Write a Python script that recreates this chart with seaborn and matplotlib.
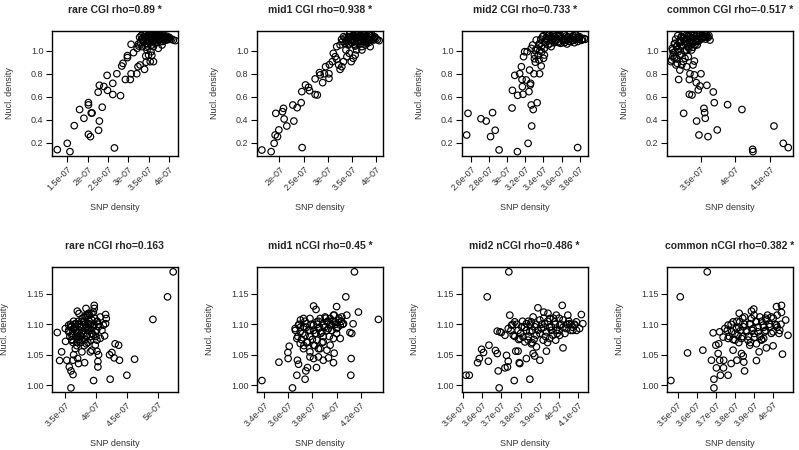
import numpy as np
import matplotlib
matplotlib.use("Agg")
import matplotlib.pyplot as plt
import seaborn as sns

# ---- top row: CGI ----
rare_cgi_snp = [1.254, 1.5, 1.566, 1.672, 1.803, 1.91, 2.02, 2.02, 2.02, 2.07, 2.09, 2.11,
                2.29, 2.26, 2.29, 2.27, 2.36, 2.40, 2.49, 2.48, 2.62, 2.62, 2.66, 2.72, 2.81,
                2.84, 2.87, 2.93, 2.98, 2.98, 3.05, 3.07, 3.07, 3.13, 3.21, 3.24, 3.29, 3.40,
                3.43, 3.44, 3.44, 3.5, 3.54, 3.62, 3.58,
                3.28, 3.38, 3.5, 3.58, 3.64, 3.7, 3.79, 3.87, 3.95, 4.03, 4.11, 4.16, 3.25,
                3.34, 3.46, 3.52, 3.62, 3.66, 3.74, 3.83, 3.91, 3.99, 3.46, 3.56, 3.61, 3.70,
                3.79, 3.54, 3.33, 3.42, 3.48, 3.68, 3.76, 3.84, 3.97, 4.07, 3.60, 3.72, 3.90,
                3.32, 3.36, 3.40, 3.44, 3.47, 3.50, 3.53, 3.56, 3.59, 3.62, 3.65, 3.68, 3.71,
                3.74, 3.77, 3.80, 3.83, 3.86, 3.89, 3.92, 3.95, 3.98, 4.01, 3.38, 3.45, 3.52,
                3.58, 3.63, 3.69, 3.73, 3.79, 3.85, 3.41, 3.55, 3.66, 3.48, 3.35, 3.30, 3.26, 3.22]
rare_cgi_nuc = [0.142, 0.197, 0.125, 0.35, 0.49, 0.414, 0.55, 0.53, 0.275, 0.255, 0.46, 0.46,
                0.70, 0.64, 0.39, 0.31, 0.51, 0.69, 0.656, 0.786, 0.717, 0.62, 0.157, 0.80, 0.61,
                0.867, 0.89, 0.75, 0.957, 0.94, 0.75, 0.80, 1.055, 0.983, 0.80, 0.861, 0.876, 0.838,
                0.954, 0.90, 1.03, 0.962, 0.905, 0.905, 0.96,
                1.116, 1.092, 1.136, 1.107, 1.127, 1.098, 1.078, 1.107, 1.092, 1.098, 1.092, 1.087, 1.058,
                1.035, 1.064, 1.078, 1.035, 1.064, 1.02, 1.049, 1.092, 1.107, 1.006, 0.991, 1.15, 1.15,
                1.136, 1.145, 1.10, 1.12, 1.10, 1.115, 1.12, 1.095, 1.11, 1.10, 1.08, 1.14, 1.125,
                1.13, 1.15, 1.11, 1.14, 1.09, 1.12, 1.15, 1.10, 1.13, 1.08, 1.145, 1.11, 1.13,
                1.09, 1.15, 1.12, 1.10, 1.135, 1.115, 1.10, 1.125, 1.105, 1.115, 1.08, 1.06, 1.07,
                1.05, 1.12, 1.07, 1.155, 1.10, 1.08, 1.16, 1.16, 1.16, 1.04, 1.10, 1.07, 1.04, 1.02]

mid1_cgi_snp = [1.636, 1.828, 1.89, 1.924, 1.91, 1.959, 1.986, 2.062, 2.082, 2.096, 2.15, 2.275,
                2.296, 2.364, 2.447, 2.46, 2.467, 2.536, 2.598, 2.62, 2.735, 2.735, 2.78, 2.825,
                2.84, 2.89, 2.925, 2.95, 3.02, 3.02, 3.03, 3.09, 3.11, 3.15, 3.18, 3.18, 3.22,
                3.25, 3.285, 3.32, 3.37, 3.39, 3.44, 3.48, 3.52, 3.56, 3.59, 3.70,
                3.28, 3.32, 3.39, 3.46, 3.53, 3.59, 3.66, 3.73, 3.80, 3.87, 3.94, 4.055, 3.42,
                3.49, 3.56, 3.63, 3.77, 3.84, 3.90, 3.97, 3.35, 3.51, 3.65, 3.79, 3.70, 3.87,
                3.40, 3.55, 3.62, 3.75, 3.83, 3.60, 3.68, 3.48,
                3.42, 3.45, 3.48, 3.51, 3.54, 3.57, 3.60, 3.63, 3.66, 3.69, 3.72, 3.75, 3.78,
                3.81, 3.84, 3.87, 3.90, 3.93, 3.96, 3.99, 4.02, 3.38, 3.44, 3.50, 3.56, 3.62,
                3.68, 3.74, 3.80, 3.86, 3.46, 3.58, 3.70, 3.53, 3.65, 3.77, 3.89, 3.35, 3.30, 3.25]
mid1_cgi_nuc = [0.139, 0.125, 0.197, 0.457, 0.269, 0.255, 0.313, 0.471, 0.50, 0.408, 0.347, 0.529,
                0.39, 0.506, 0.549, 0.645, 0.16, 0.703, 0.682, 0.653, 0.755, 0.62, 0.616, 0.81,
                0.79, 0.723, 0.80, 0.861, 0.76, 0.80, 0.879, 0.905, 0.977, 0.948, 0.925, 1.035, 0.876,
                0.838, 0.861, 0.905, 1.006, 0.948, 0.977, 0.905, 0.934, 0.962, 1.006, 1.006,
                1.098, 1.121, 1.078, 1.121, 1.136, 1.116, 1.092, 1.136, 1.107, 1.127, 1.092, 1.087, 1.049,
                1.069, 1.04, 1.064, 1.049, 1.069, 1.098, 1.116, 1.064, 1.098, 1.127, 1.078, 1.035, 1.035,
                1.10, 1.115, 1.14, 1.12, 1.10, 1.085, 1.13, 1.09,
                1.12, 1.15, 1.10, 1.13, 1.08, 1.14, 1.11, 1.16, 1.09, 1.13, 1.105, 1.15, 1.12,
                1.09, 1.14, 1.11, 1.13, 1.10, 1.12, 1.105, 1.095, 1.09, 1.06, 1.07, 1.05, 1.075,
                1.06, 1.08, 1.065, 1.09, 1.16, 1.16, 1.155, 1.12, 1.125, 1.10, 1.15, 1.11, 1.08, 1.05]

mid2_cgi_snp = [2.552, 2.567, 2.71, 2.768, 2.816, 2.838, 2.867, 2.91, 3.053, 3.057, 3.083, 3.112,
                3.115, 3.137, 3.156, 3.163, 3.167, 3.174, 3.18, 3.192, 3.21, 3.22, 3.23, 3.24,
                3.247, 3.254, 3.258, 3.265, 3.27, 3.287, 3.30, 3.295, 3.31, 3.33, 3.35, 3.357,
                3.375, 3.40, 3.41, 3.28, 3.265, 3.32, 3.357, 3.777,
                3.39, 3.43, 3.466, 3.50, 3.54, 3.576, 3.61, 3.65, 3.686, 3.72, 3.76, 3.795, 3.83,
                3.70, 3.74, 3.45, 3.485, 3.52, 3.56, 3.59, 3.63, 3.66, 3.41, 3.375, 3.50, 3.777,
                3.86, 3.44, 3.47, 3.53, 3.57, 3.62, 3.67, 3.73, 3.80, 3.36, 3.42,
                3.37, 3.40, 3.43, 3.46, 3.49, 3.52, 3.55, 3.58, 3.61, 3.64, 3.67, 3.70, 3.73,
                3.76, 3.79, 3.82, 3.85, 3.42, 3.47, 3.53, 3.57, 3.62, 3.68, 3.72, 3.78, 3.44,
                3.51, 3.56, 3.63, 3.69, 3.75, 3.35, 3.33, 3.38, 3.31, 3.34, 3.30]
mid2_cgi_nuc = [0.269, 0.457, 0.41, 0.39, 0.255, 0.463, 0.31, 0.14, 0.503, 0.656, 0.786, 0.125,
                0.613, 0.80, 0.861, 0.75, 0.688, 0.622, 0.948, 0.991, 0.746, 0.991, 0.197, 0.645,
                0.832, 0.703, 0.717, 0.529, 0.347, 0.49, 0.962, 0.80, 0.90, 0.549, 0.919, 0.80,
                0.867, 0.934, 0.962, 1.049, 1.02, 1.092, 1.064, 0.16,
                1.121, 1.092, 1.136, 1.107, 1.15, 1.121, 1.092, 1.127, 1.098, 1.121, 1.136, 1.098, 1.098,
                1.078, 1.069, 1.049, 1.035, 1.069, 1.078, 1.064, 1.069, 1.058, 1.02, 1.035, 1.15, 1.116,
                1.098, 1.10, 1.12, 1.09, 1.13, 1.10, 1.115, 1.09, 1.12, 1.00, 1.075,
                1.10, 1.13, 1.11, 1.14, 1.09, 1.12, 1.10, 1.14, 1.11, 1.09, 1.12, 1.105, 1.13,
                1.10, 1.115, 1.09, 1.105, 1.07, 1.06, 1.08, 1.07, 1.085, 1.08, 1.09, 1.08, 1.15,
                1.155, 1.15, 1.14, 1.145, 1.14, 1.05, 1.02, 0.99, 1.00, 0.96, 0.93]

common_cgi_snp = [3.072, 3.096, 3.106, 3.082, 3.12, 3.144, 3.13, 3.163, 3.183, 3.20, 3.226, 3.25,
                  3.255, 3.274, 3.298, 3.322, 3.337, 3.346, 3.337, 3.375, 3.39, 3.41, 3.41, 3.442,
                  3.437, 3.466, 3.476, 3.49, 3.505, 3.548, 3.558, 3.567, 3.59, 3.606, 3.683, 3.697,
                  3.74, 3.889, 4.096, 4.25, 4.255, 4.558, 4.692, 4.764,
                  3.154, 3.20, 3.25, 3.298, 3.346, 3.394, 3.442, 3.49, 3.538, 3.587, 3.635, 3.226,
                  3.274, 3.322, 3.37, 3.418, 3.466, 3.514, 3.563, 3.298, 3.37, 3.178, 3.346, 3.442,
                  3.22, 3.31, 3.40, 3.47, 3.52, 3.57, 3.61, 3.36, 3.28, 3.45,
                  3.14, 3.17, 3.20, 3.23, 3.26, 3.29, 3.32, 3.35, 3.38, 3.41, 3.44, 3.47, 3.50,
                  3.53, 3.56, 3.59, 3.62, 3.12, 3.16, 3.19, 3.23, 3.27, 3.31, 3.35, 3.39, 3.43,
                  3.47, 3.51, 3.09, 3.13, 3.18, 3.22, 3.27, 3.33, 3.39, 3.25, 3.37, 3.49, 3.58,
                  3.10, 3.15, 3.20]
common_cgi_nuc = [0.905, 1.006, 0.983, 0.919, 0.934, 0.876, 1.064, 0.89, 0.75, 0.832, 0.876, 0.905,
                  0.457, 0.934, 0.861, 0.948, 0.75, 0.80, 0.622, 0.616, 0.876, 0.91, 0.79, 0.39,
                  0.723, 0.66, 0.269, 0.694, 0.80, 0.50, 0.463, 0.414, 0.70, 0.255, 0.642, 0.549,
                  0.313, 0.532, 0.49, 0.145, 0.125, 0.347, 0.197, 0.16,
                  1.035, 1.078, 1.107, 1.136, 1.121, 1.15, 1.127, 1.144, 1.127, 1.136, 1.092, 1.035,
                  1.064, 1.035, 1.078, 1.049, 1.078, 1.107, 1.116, 1.006, 1.006, 0.991, 1.092, 1.092,
                  1.12, 1.10, 1.13, 1.105, 1.12, 1.10, 1.115, 1.06, 1.08, 1.05,
                  1.10, 1.13, 1.09, 1.12, 1.14, 1.10, 1.13, 1.15, 1.11, 1.14, 1.10, 1.12, 1.13,
                  1.11, 1.14, 1.12, 1.13, 1.06, 1.04, 1.07, 1.05, 1.08, 1.06, 1.09, 1.07, 1.08,
                  1.09, 1.10, 1.02, 0.99, 1.01, 0.97, 1.00, 1.02, 1.03, 1.16, 1.16, 1.155, 1.155,
                  0.95, 0.93, 0.96]

# ---- bottom row: nCGI ----
rare_ncgi_snp = [3.376, 3.414, 3.446, 3.505, 3.53, 3.51, 3.56, 3.57, 3.597, 3.597, 3.63, 3.63,
                 3.64, 3.667, 3.70, 3.726, 3.704, 3.72, 3.774, 3.817, 3.84, 3.844, 3.866, 3.91,
                 3.935, 3.962, 3.973, 3.989, 3.973, 4.016, 4.032, 4.032, 4.016, 4.043, 4.14, 4.156,
                 4.156, 4.167, 4.23, 4.22, 4.258, 4.295, 4.31, 4.366, 4.38, 4.5, 4.624, 4.92,
                 5.156, 5.247,
                 3.56, 3.613, 3.64, 3.667, 3.694, 3.72, 3.747, 3.774, 3.80, 3.828, 3.855, 3.88,
                 3.91, 3.935, 3.962, 3.989, 4.016, 4.043, 4.07, 4.097, 4.12, 3.828, 3.88, 3.935,
                 3.774, 3.694, 3.613, 4.07, 3.91, 3.747, 3.667, 3.586, 3.855, 3.962,
                 3.56, 3.59, 3.62, 3.65, 3.68, 3.71, 3.74, 3.77, 3.80, 3.83, 3.86, 3.89, 3.92,
                 3.95, 3.98, 4.01, 4.04, 3.58, 3.61, 3.64, 3.67, 3.70, 3.73, 3.76, 3.79, 3.82,
                 3.85, 3.88, 3.91, 3.94, 3.97, 4.00, 3.60, 3.66, 3.72, 3.78, 3.84, 3.90, 3.96,
                 4.02, 3.75, 3.69, 3.81, 3.87, 3.63]
rare_ncgi_nuc = [1.0865, 1.0405, 1.0548, 1.093, 1.041, 1.072, 1.0986, 1.030, 1.0235, 0.9956, 1.0175, 1.041,
                 1.050, 1.060, 1.1215, 1.1177, 1.0438, 1.0356, 1.0548, 1.037, 1.126, 1.068, 1.115, 1.0548,
                 1.0575, 1.0077, 1.131, 1.0657, 1.126, 1.0559, 1.039, 1.030, 1.074, 1.050, 1.081, 1.116,
                 1.101, 1.1095, 1.0099, 1.050, 1.0537, 1.0449, 1.068, 1.0657, 1.041, 1.0164, 1.0427, 1.108,
                 1.145, 1.186,
                 1.0876, 1.082, 1.093, 1.101, 1.0876, 1.079, 1.096, 1.0876, 1.104, 1.093, 1.082, 1.101,
                 1.093, 1.107, 1.0986, 1.0876, 1.104, 1.096, 1.112, 1.090, 1.0986, 1.112, 1.118, 1.118,
                 1.074, 1.071, 1.074, 1.077, 1.074, 1.082, 1.096, 1.096, 1.096, 1.082,
                 1.09, 1.10, 1.085, 1.095, 1.08, 1.10, 1.09, 1.105, 1.085, 1.10, 1.09, 1.105, 1.08,
                 1.095, 1.11, 1.09, 1.10, 1.08, 1.075, 1.105, 1.09, 1.085, 1.075, 1.08, 1.095, 1.075,
                 1.08, 1.095, 1.10, 1.085, 1.10, 1.08, 1.095, 1.10, 1.105, 1.11, 1.115, 1.115, 1.12,
                 1.105, 1.07, 1.065, 1.065, 1.07, 1.07]

mid1_ncgi_snp = [3.384, 3.524, 3.60, 3.598, 3.609, 3.636, 3.672, 3.677, 3.686, 3.702, 3.74, 3.746,
                 3.76, 3.81, 3.83, 3.834, 3.89, 3.933, 3.974, 3.98, 4.0, 4.03, 4.076, 4.084, 4.11,
                 4.125, 4.136, 4.12, 4.117, 4.147, 4.18, 4.345,
                 3.658, 3.686, 3.70, 3.727, 3.74, 3.754, 3.78, 3.81, 3.823, 3.837, 3.85, 3.864,
                 3.878, 3.89, 3.905, 3.92, 3.933, 3.947, 3.96, 3.974, 3.988, 4.0, 4.015, 4.03,
                 4.043, 4.057, 3.672, 3.70, 3.727, 3.754, 3.78, 3.81, 3.837, 3.864, 3.89, 3.92,
                 3.947, 3.974, 3.78, 3.81, 3.85, 3.727, 3.78,
                 3.66, 3.69, 3.72, 3.75, 3.78, 3.81, 3.84, 3.87, 3.90, 3.93, 3.96, 3.99, 4.02,
                 4.05, 3.68, 3.71, 3.74, 3.77, 3.80, 3.83, 3.86, 3.89, 3.92, 3.95, 3.98, 4.01,
                 4.04, 3.76, 3.82, 3.88, 3.94, 3.70, 3.79, 3.85, 3.91, 3.97, 4.00, 3.73, 3.85]
mid1_ncgi_nuc = [1.0077, 1.0378, 1.0438, 1.0537, 1.064, 0.9956, 1.0164, 1.041, 1.0345, 1.107, 1.0099, 1.0235,
                 1.029, 1.130, 1.1243, 1.029, 1.041, 1.0449, 1.037, 1.0526, 1.129, 1.0767, 1.145, 1.115, 1.0865,
                 1.085, 1.1008, 1.0438, 1.0164, 1.186, 1.120, 1.108,
                 1.093, 1.0986, 1.0876, 1.096, 1.082, 1.101, 1.090, 1.0986, 1.085, 1.104, 1.093, 1.1095,
                 1.0876, 1.0986, 1.112, 1.104, 1.093, 1.1095, 1.0986, 1.115, 1.104, 1.093, 1.107, 1.0986,
                 1.112, 1.101, 1.0767, 1.0685, 1.060, 1.071, 1.0548, 1.0657, 1.074, 1.060, 1.071, 1.0575,
                 1.0657, 1.0767, 1.0465, 1.0438, 1.0465, 1.1095, 1.1095,
                 1.09, 1.10, 1.085, 1.095, 1.08, 1.09, 1.10, 1.085, 1.095, 1.105, 1.09, 1.10, 1.11,
                 1.10, 1.08, 1.075, 1.105, 1.09, 1.075, 1.085, 1.095, 1.08, 1.09, 1.10, 1.115, 1.095,
                 1.105, 1.07, 1.065, 1.07, 1.08, 1.095, 1.10, 1.105, 1.11, 1.105, 1.085, 1.065, 1.06]

mid2_ncgi_snp = [3.517, 3.534, 3.577, 3.586, 3.598, 3.608, 3.627, 3.633, 3.636, 3.67, 3.679, 3.679,
                 3.684, 3.689, 3.693, 3.70, 3.719, 3.732, 3.739, 3.744, 3.727, 3.736, 3.767, 3.775,
                 3.787, 3.793, 3.796, 3.83, 3.848, 3.856, 3.865, 3.873, 3.882, 3.89, 3.90, 3.92,
                 3.934, 3.982, 4.016, 4.02, 4.045, 4.063, 4.089, 4.115, 4.123, 4.106,
                 3.719, 3.736, 3.753, 3.762, 3.77, 3.787, 3.805, 3.813, 3.83, 3.848, 3.856, 3.873,
                 3.882, 3.90, 3.908, 3.925, 3.934, 3.951, 3.96, 3.977, 3.985, 4.003, 4.02, 4.037,
                 4.054, 4.071, 4.08, 3.796, 3.822, 3.839, 3.917, 3.951, 3.968, 4.003, 3.865, 3.942,
                 3.985,
                 3.75, 3.78, 3.80, 3.82, 3.84, 3.86, 3.88, 3.90, 3.92, 3.94, 3.96, 3.98, 4.00,
                 4.02, 4.04, 4.06, 4.08, 3.77, 3.79, 3.81, 3.83, 3.85, 3.87, 3.89, 3.91, 3.93,
                 3.95, 3.97, 3.99, 4.01, 4.03, 4.05, 4.07, 4.09, 3.76, 3.84, 3.92, 4.00, 3.86, 3.94]
mid2_ncgi_nuc = [1.0164, 1.0164, 1.037, 1.0438, 1.059, 1.0537, 1.145, 1.0394, 1.0657, 1.057, 1.052, 1.0887,
                 1.0235, 0.9956, 1.0876, 1.0865, 1.0285, 1.030, 1.186, 1.115, 1.049, 1.0394, 1.0077, 1.0559,
                 1.0559, 1.037, 1.0356, 1.0438, 1.0099, 1.068, 1.052, 1.048, 1.063, 1.127, 1.041, 1.120,
                 1.0559, 1.074, 1.131, 1.0613, 1.115, 1.0997, 1.104, 1.116, 1.101, 1.093,
                 1.082, 1.093, 1.0986, 1.082, 1.104, 1.090, 1.096, 1.079, 1.101, 1.0876, 1.104, 1.096,
                 1.082, 1.107, 1.093, 1.101, 1.0876, 1.1095, 1.096, 1.104, 1.090, 1.0986, 1.107, 1.093,
                 1.101, 1.090, 1.0986, 1.0767, 1.071, 1.074, 1.074, 1.0767, 1.082, 1.082, 1.112, 1.118,
                 1.115,
                 1.09, 1.10, 1.085, 1.095, 1.08, 1.09, 1.10, 1.085, 1.095, 1.105, 1.09, 1.10, 1.11,
                 1.095, 1.10, 1.09, 1.10, 1.08, 1.075, 1.105, 1.09, 1.10, 1.075, 1.09, 1.10, 1.08,
                 1.095, 1.11, 1.085, 1.10, 1.085, 1.105, 1.095, 1.09, 1.10, 1.105, 1.11, 1.09, 1.07, 1.07]

common_ncgi_snp = [3.465, 3.514, 3.552, 3.632, 3.655, 3.677, 3.686, 3.69, 3.69, 3.70, 3.703, 3.712,
                   3.715, 3.72, 3.724, 3.74, 3.741, 3.764, 3.78, 3.79, 3.81, 3.822, 3.834, 3.843,
                   3.846, 3.85, 3.877, 3.886, 3.898, 3.912, 3.912, 3.926, 3.95, 3.964, 3.999, 4.017,
                   4.043, 4.043, 4.048, 4.065, 4.077,
                   3.747, 3.764, 3.782, 3.79, 3.808, 3.816, 3.825, 3.843, 3.85, 3.86, 3.877, 3.886,
                   3.895, 3.912, 3.92, 3.93, 3.947, 3.956, 3.964, 3.982, 3.99, 3.999, 4.017, 4.034,
                   3.764, 3.80, 3.834, 3.868, 3.903, 3.938, 3.72, 3.738,
                   3.76, 3.78, 3.80, 3.82, 3.84, 3.86, 3.88, 3.90, 3.92, 3.94, 3.96, 3.98, 4.00,
                   4.02, 4.04, 3.77, 3.79, 3.81, 3.83, 3.85, 3.87, 3.89, 3.91, 3.93, 3.95, 3.97,
                   3.99, 4.01, 4.03, 3.84, 3.90, 3.96, 4.02, 3.82, 3.88, 3.94]
common_ncgi_nuc = [1.0077, 1.145, 1.053, 1.0575, 1.186, 1.041, 1.086, 0.9956, 1.0099, 1.0657, 1.0285, 1.052,
                   1.068, 1.041, 1.0164, 1.0285, 1.041, 1.0164, 1.0356, 1.0575, 1.041, 1.118, 1.052, 1.048,
                   1.038, 1.0235, 1.0657, 1.1216, 1.125, 1.0405, 1.068, 1.0548, 1.0767, 1.0613, 1.0646, 1.129,
                   1.131, 1.1194, 1.051, 1.107, 1.082,
                   1.093, 1.0986, 1.0876, 1.104, 1.093, 1.082, 1.104, 1.096, 1.112, 1.0876, 1.101, 1.1095,
                   1.093, 1.104, 1.0876, 1.112, 1.0986, 1.0876, 1.107, 1.096, 1.112, 1.0876, 1.0986, 1.090,
                   1.0767, 1.074, 1.0767, 1.074, 1.079, 1.074, 1.0876, 1.079,
                   1.09, 1.10, 1.085, 1.095, 1.08, 1.09, 1.10, 1.085, 1.095, 1.105, 1.09, 1.10, 1.11,
                   1.095, 1.10, 1.08, 1.075, 1.105, 1.09, 1.10, 1.08, 1.09, 1.105, 1.08, 1.095, 1.115,
                   1.085, 1.10, 1.085, 1.11, 1.115, 1.11, 1.115, 1.07, 1.07, 1.075]

titles = ["rare CGI rho=0.89 *", "mid1 CGI rho=0.938 *", "mid2 CGI rho=0.733 *", "common CGI rho=-0.517 *",
          "rare nCGI rho=0.163", "mid1 nCGI rho=0.45 *", "mid2 nCGI rho=0.486 *", "common nCGI rho=0.382 *"]

x_ticks = [[1.5, 2.0, 2.5, 3.0, 3.5, 4.0],
           [2.0, 2.5, 3.0, 3.5, 4.0],
           [2.6, 2.8, 3.0, 3.2, 3.4, 3.6, 3.8],
           [3.5, 4.0, 4.5],
           [3.5, 4.0, 4.5, 5.0],
           [3.4, 3.6, 3.8, 4.0, 4.2],
           [3.5, 3.6, 3.7, 3.8, 3.9, 4.0, 4.1],
           [3.5, 3.6, 3.7, 3.8, 3.9, 4.0]]
x_limits = [(1.123, 4.221), (1.533, 4.13), (2.498, 3.888), (3.01, 4.827),
            (3.29, 5.323), (3.342, 4.381), (3.495, 4.148), (3.443, 4.101)]

cgi_yticks = [0.2, 0.4, 0.6, 0.8, 1.0]
ncgi_yticks = [1.00, 1.05, 1.10, 1.15]
cgi_ylim = (0.087, 1.17)
ncgi_ylim = (0.989, 1.194)

snp_data = [rare_cgi_snp, mid1_cgi_snp, mid2_cgi_snp, common_cgi_snp,
            rare_ncgi_snp, mid1_ncgi_snp, mid2_ncgi_snp, common_ncgi_snp]
nuc_data = [rare_cgi_nuc, mid1_cgi_nuc, mid2_cgi_nuc, common_cgi_nuc,
            rare_ncgi_nuc, mid1_ncgi_nuc, mid2_ncgi_nuc, common_ncgi_nuc]


def r_label(v):
    # R style labels like 1.5e-07, 4e-07
    s = ("%g" % v).rstrip("0").rstrip(".")
    return s + "e-07"


sns.set_theme(style="ticks")
plt.rcParams['font.family'] = ['Liberation Sans', 'DejaVu Sans']

fig, axes = plt.subplots(2, 4, figsize=(7.99, 4.5), dpi=100)
fig.subplots_adjust(left=0.065, right=0.992, top=0.931, bottom=0.129, wspace=0.627, hspace=0.888)

for i, ax in enumerate(axes.flat):
    x = np.array(snp_data[i]) * 1e-7
    y = np.array(nuc_data[i])
    sns.scatterplot(x=x, y=y, ax=ax, marker="o", s=22, fc="none", ec="black", linewidth=0.85)
    ax.set_xlim(x_limits[i][0] * 1e-7, x_limits[i][1] * 1e-7)
    ax.set_xticks(np.array(x_ticks[i]) * 1e-7)
    ax.set_xticklabels([r_label(t) for t in x_ticks[i]], rotation=45, ha="right",
                       rotation_mode="anchor", fontsize=6.5, color="#333333")
    if i < 4:
        ax.set_ylim(*cgi_ylim)
        ax.set_yticks(cgi_yticks)
        ax.set_yticklabels(["%.1f" % t for t in cgi_yticks], fontsize=6.5, color="#333333")
    else:
        ax.set_ylim(*ncgi_ylim)
        ax.set_yticks(ncgi_yticks)
        ax.set_yticklabels(["%.2f" % t for t in ncgi_yticks], fontsize=6.5, color="#333333")
    for side in ax.spines.values():
        side.set_visible(True)
        side.set_linewidth(1.0)
        side.set_color("black")
    ax.tick_params(length=4, width=0.8, pad=2, color="black")
    ax.set_title(titles[i], fontsize=7.5, fontweight="bold", pad=13)
    ax.set_xlabel("SNP density", fontsize=6.5, color="#333333", labelpad=8)
    ax.set_ylabel("Nucl. density", fontsize=6.5, color="#333333", labelpad=12)

fig.savefig("out.png", dpi=100)
